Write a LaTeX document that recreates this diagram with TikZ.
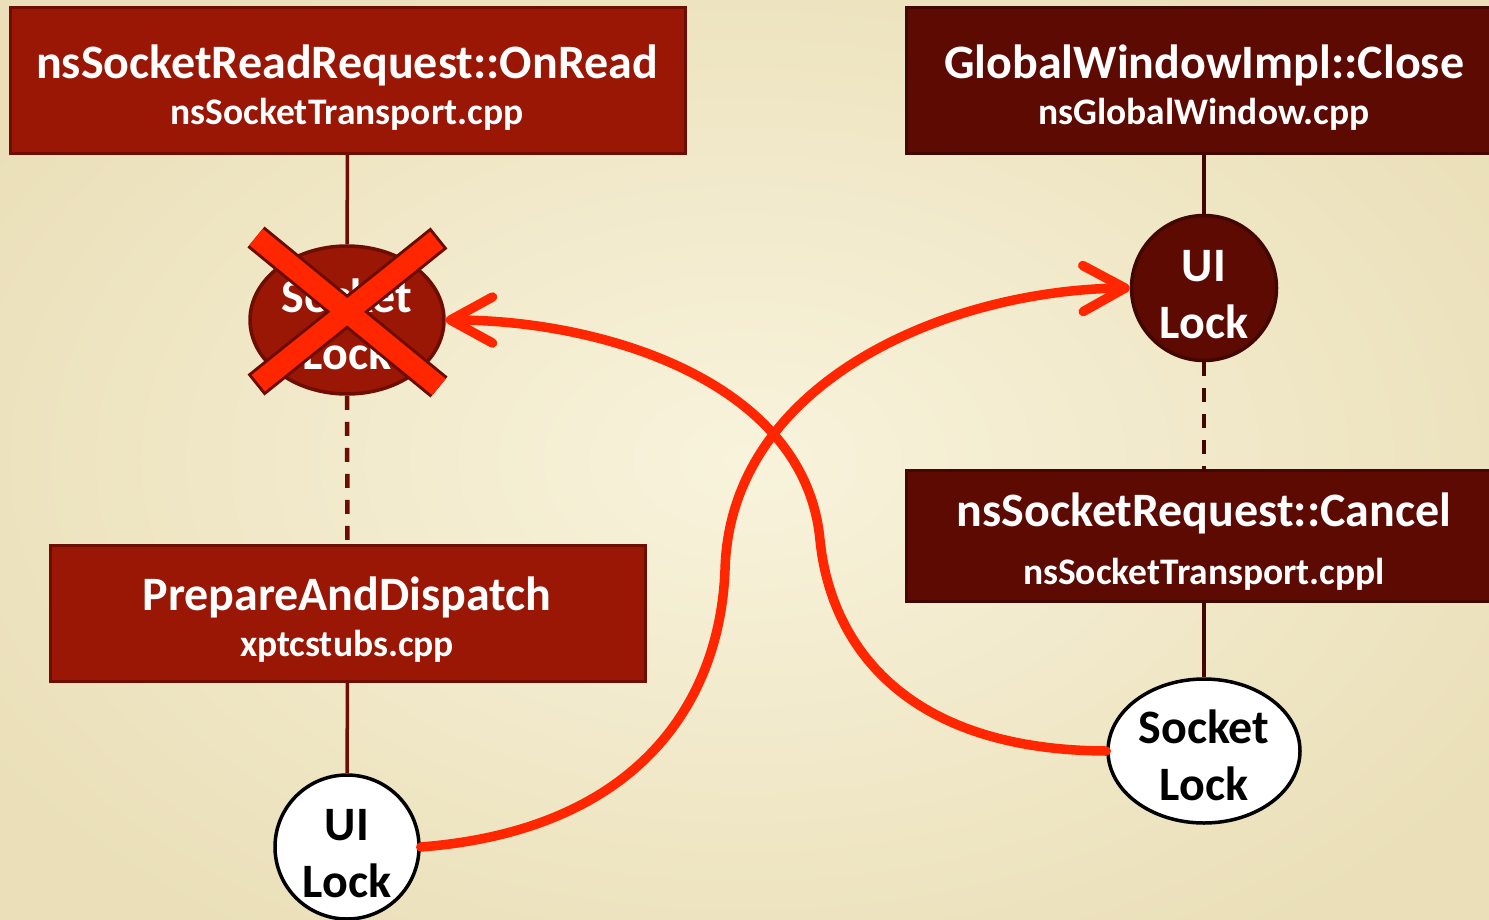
\documentclass[tikz,border=0pt]{standalone}
\usepackage{fontspec}
\setmainfont{Carlito}
\usetikzlibrary{shapes.geometric,arrows.meta}

\definecolor{bgmid}{HTML}{F8F3DC}
\definecolor{bgedge}{HTML}{EADFB8}
\definecolor{brick}{HTML}{9A1605}
\definecolor{brickline}{HTML}{6E0E03}
\definecolor{maroon}{HTML}{5C0A02}
\definecolor{maroonline}{HTML}{430701}
\definecolor{flow}{HTML}{FF2600}
\definecolor{crossline}{HTML}{6A0C02}

\begin{document}
\begin{tikzpicture}[x=1pt,y=-1pt,
  box/.style={rectangle, line width=3pt, inner sep=0pt},
  hotbox/.style={box, fill=brick, draw=brickline},
  coldbox/.style={box, fill=maroon, draw=maroonline},
  lockshape/.style={ellipse, line width=3.5pt, inner sep=0pt},
  title/.style={anchor=base, text=white, font=\fontsize{48}{52}\selectfont\bfseries},
  subtitle/.style={anchor=base, text=white, font=\fontsize{37.5}{42}\selectfont\bfseries},
  locktext/.style={anchor=base, font=\fontsize{48}{52}\selectfont\bfseries},
  link/.style={line width=3.5pt},
  dashlink/.style={line width=4.5pt, dash pattern=on 14pt off 12pt},
  flowline/.style={draw=flow, line width=9.5pt, line cap=round,
    -{Straight Barb[length=42pt,width=46pt,round]}},
]
% page and background
\useasboundingbox (0,0) rectangle (1489,919);
\clip (0,0) rectangle (1489,919);
\shade[inner color=bgmid, outer color=bgedge] (-150,-120) rectangle (1640,1040);

% function boxes
\node[hotbox, minimum width=675pt, minimum height=146pt] (read) at (347.5,80) {};
\node[coldbox, minimum width=600pt, minimum height=146pt] (close) at (1206,80) {};
\node[coldbox, minimum width=600pt, minimum height=131pt] (cancel) at (1206,535.5) {};
\node[hotbox, minimum width=595pt, minimum height=136pt] (dispatch) at (347.5,613) {};

\node[title] (read-t) at (347,78) {nsSocketReadRequest::OnRead};
\node[subtitle] (read-s) at (347,124) {nsSocketTransport.cpp};
\node[title] (close-t) at (1204,78) {GlobalWindowImpl::Close};
\node[subtitle] (close-s) at (1204,124) {nsGlobalWindow.cpp};
\node[title] (cancel-t) at (1204,526) {nsSocketRequest::Cancel};
\node[subtitle] (cancel-s) at (1204,584) {nsSocketTransport.cppl};
\node[title] (dispatch-t) at (347,610) {PrepareAndDispatch};
\node[subtitle] (dispatch-s) at (347,656) {xptcstubs.cpp};

% lock shapes
\node[lockshape, fill=brick, draw=brickline, minimum width=194pt, minimum height=148pt] (sockA) at (347,320) {};
\node[lockshape, circle, fill=maroon, draw=maroonline, minimum size=145pt] (uiA) at (1204,288) {};
\node[lockshape, fill=white, draw=black, minimum width=192pt, minimum height=144pt] (sockB) at (1204,751) {};
\node[lockshape, circle, fill=white, draw=black, minimum size=144pt] (uiB) at (347,847) {};

\node[locktext, text=white] (sockA-1) at (347,312) {Socket};
\node[locktext, text=white] (sockA-2) at (347,369) {Lock};
\node[locktext, text=white] (uiA-1) at (1204,281) {UI};
\node[locktext, text=white] (uiA-2) at (1204,338) {Lock};
\node[locktext] (sockB-1) at (1204,743) {Socket};
\node[locktext] (sockB-2) at (1204,800) {Lock};
\node[locktext] (uiB-1) at (347,840) {UI};
\node[locktext] (uiB-2) at (347,897) {Lock};

% call-stack links
\draw[link, draw=brickline] (read.south) -- (sockA.north);
\draw[dashlink, draw=brickline] (sockA.south) -- (dispatch.north);
\draw[link, draw=brickline] (dispatch.south) -- (uiB.north);
\draw[link, draw=maroonline] (uiA.north |- close.south) -- (uiA.north);
\draw[dashlink, draw=maroonline] (uiA.south) -- (uiA.south |- cancel.north);
\draw[link, draw=maroonline] (sockB.north |- cancel.south) -- (sockB.north);

% the struck-out lock
\coordinate (xa) at (256,237);
\coordinate (xb) at (439,387);
\coordinate (xc) at (439,238);
\coordinate (xd) at (256,385);
\draw[crossline, line width=27pt] (xa) -- (xb) (xc) -- (xd);
\draw[flow, line width=21pt, shorten <=3pt, shorten >=3pt] (xa) -- (xb) (xc) -- (xd);

% lock acquisition order
\draw[flowline] (uiB.east) .. controls (640,830) and (720,700) .. (725,570)
  .. controls (730,380) and (950,290) .. (uiA.west);
\draw[flowline] (sockB.west) .. controls (900,750) and (830,640) .. (820,540)
  .. controls (805,380) and (600,320) .. (sockA.east);
\end{tikzpicture}
\end{document}
